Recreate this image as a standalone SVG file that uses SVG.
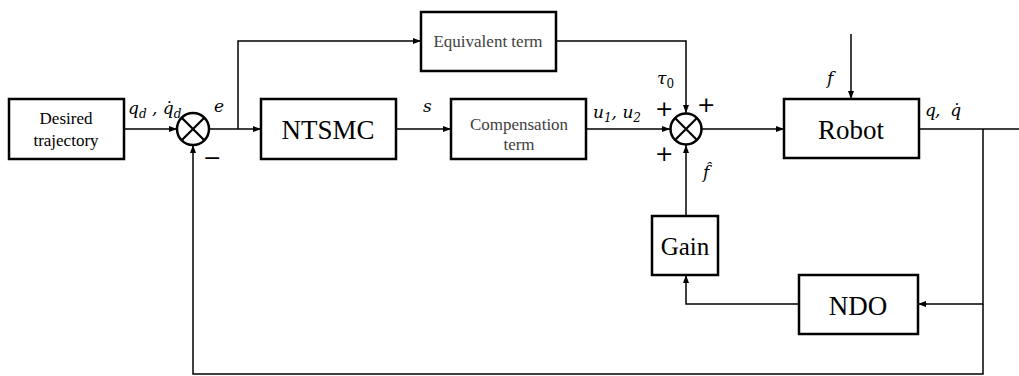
<svg xmlns="http://www.w3.org/2000/svg" width="1019" height="376" viewBox="0 0 1019 376">
<style>
.box{fill:#fff;stroke:#000;stroke-width:2.5}
.ln{fill:none;stroke:#000;stroke-width:1.5}
.sum{fill:#fff;stroke:#000;stroke-width:2.5}
.big{font-family:"Liberation Serif",serif;font-size:27px;fill:#000;text-anchor:middle}
.sm{font-family:"Liberation Serif",serif;font-size:17px;fill:#404040;text-anchor:middle}
.m{font-family:"DejaVu Serif","Liberation Serif",serif;font-style:italic;font-size:17px;fill:#000}
.sg{font-family:"DejaVu Sans","Liberation Sans",sans-serif;font-size:22px;fill:#000}
</style>
<defs>
<marker id="ar" markerWidth="8" markerHeight="6" refX="8" refY="3" orient="auto" markerUnits="userSpaceOnUse">
<path d="M0,0 L8,3 L0,6 Z" fill="#000"/>
</marker>
</defs>
<rect width="1019" height="376" fill="#fff"/>
<g id="connectors">
<path class="ln" d="M124,129 H177" marker-end="url(#ar)"/>
<path class="ln" d="M209,129 H261" marker-end="url(#ar)"/>
<path class="ln" d="M238,129 V41 H421" marker-end="url(#ar)"/>
<path class="ln" d="M396,129 H451" marker-end="url(#ar)"/>
<path class="ln" d="M586,129 H670" marker-end="url(#ar)"/>
<path class="ln" d="M556,41 H686 V113" marker-end="url(#ar)"/>
<path class="ln" d="M702,129 H784" marker-end="url(#ar)"/>
<path class="ln" d="M851,34 V99" marker-end="url(#ar)"/>
<path class="ln" d="M919,129 H1019"/>
<path class="ln" d="M983,129 V304 H918" marker-end="url(#ar)"/>
<path class="ln" d="M983,304 V374 H193 V145" marker-end="url(#ar)"/>
<path class="ln" d="M799,304 H686 V275" marker-end="url(#ar)"/>
<path class="ln" d="M686,216 V145" marker-end="url(#ar)"/>
</g>
<g id="desired">
<rect class="box" x="9" y="99" width="115" height="60"/>
<text class="sm" x="66" y="124" style="fill:#000">Desired</text>
<text class="sm" x="66" y="146" style="fill:#000">trajectory</text>
</g>
<g id="sum1">
<circle class="sum" cx="193" cy="129" r="16"/>
<path class="ln" style="stroke-width:2.2" d="M181.7,117.7 L204.3,140.3 M204.3,117.7 L181.7,140.3"/>
</g>
<g id="equivalent">
<rect class="box" x="421" y="12" width="135" height="59"/>
<text class="sm" x="488" y="47">Equivalent term</text>
</g>
<g id="ntsmc">
<rect class="box" x="261" y="99" width="135" height="60"/>
<text class="big" x="328" y="139">NTSMC</text>
</g>
<g id="compensation">
<rect class="box" x="451" y="99" width="135" height="60"/>
<text class="sm" x="519" y="130">Compensation</text>
<text class="sm" x="519" y="150">term</text>
</g>
<g id="sum2">
<circle class="sum" cx="686" cy="129" r="15.5"/>
<path class="ln" style="stroke-width:2.2" d="M675,118 L697,140 M697,118 L675,140"/>
</g>
<g id="robot">
<rect class="box" x="784" y="99" width="135" height="59"/>
<text class="big" x="851" y="139">Robot</text>
</g>
<g id="gain">
<rect class="box" x="652" y="216" width="66" height="59"/>
<text class="big" x="685" y="255" style="font-size:25px">Gain</text>
</g>
<g id="ndo">
<rect class="box" x="799" y="275" width="119" height="59"/>
<text class="big" x="858" y="315">NDO</text>
</g>
<g id="labels">
<text class="m" x="128" y="114">q<tspan font-size="12" dy="4">d</tspan><tspan dy="-4"> , q̇</tspan><tspan font-size="12" dy="4">d</tspan></text>
<text class="m" x="214" y="112">e</text>
<text class="sg" x="203" y="165">−</text>
<text class="m" x="423" y="112">s</text>
<text class="m" x="593" y="118">u<tspan font-size="12" dy="4">1</tspan><tspan dy="-4">, u</tspan><tspan font-size="12" dy="4">2</tspan></text>
<text class="m" x="657" y="84">τ<tspan font-size="12" dy="4" font-style="normal">0</tspan></text>
<text class="sg" x="655" y="116">+</text>
<text class="sg" x="697" y="112">+</text>
<text class="sg" x="655" y="161">+</text>
<text class="m" x="703" y="178">f̂</text>
<text class="m" x="827" y="84">f</text>
<text class="m" x="925" y="116">q<tspan dx="-1">,</tspan><tspan dx="10">q̇</tspan></text>
</g>
</svg>
